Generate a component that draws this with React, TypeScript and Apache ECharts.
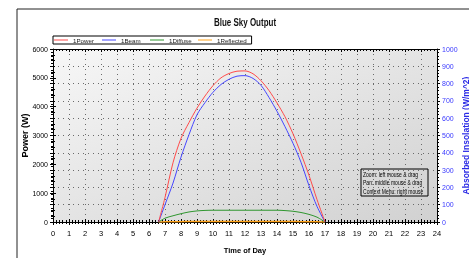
import React, { useEffect, useRef } from "react";
import * as echarts from "echarts";

const FONT = "'Liberation Sans', Arial, sans-serif";

const hours = [6.6, 7, 7.5, 8, 8.5, 9, 9.5, 10, 10.5, 11, 11.5, 12, 12.5, 13, 13.5, 14, 14.5, 15, 15.5, 16, 16.5, 17];
const power = [0, 850, 2055, 2900, 3450, 3950, 4370, 4730, 5000, 5150, 5230, 5240, 5140, 4900, 4560, 4130, 3650, 3060, 2370, 1620, 780, 0];
const beam = [0, 100, 225, 375, 505, 620, 690, 750, 795, 825, 843, 846, 830, 790, 720, 640, 551, 455, 345, 210, 90, 0];
const diffuse = [0, 22, 36, 48, 58, 64, 67, 68, 68, 68, 68, 68, 68, 68, 68, 68, 66, 62, 55, 44, 28, 0];
const reflected = [0, 1, 2, 2, 3, 3, 3, 3, 3, 3, 3, 3, 3, 3, 3, 3, 3, 3, 2, 2, 1, 0];

const xTicks = { min: 0, max: 24, interval: 1 };
const powerTicks = { min: 0, max: 6000, interval: 1000 };
const insolTicks = { min: 0, max: 1000, interval: 100 };

const chartTitle = "Blue Sky Output";
const seriesNames = ["1Power", "1Beam", "1Diffuse", "1Reflected"];
const seriesColors = ["#ff4a4a", "#4646ff", "#2f962f", "#ffa31a"];
const helpLines = ["Zoom: left mouse & drag", "Pan: middle mouse & drag", "Context Menu: right mouse"];

const pairs = (vals: number[]) => hours.map((h, i) => [h, vals[i]]);

export default function App() {
  const ref = useRef<HTMLDivElement>(null);
  useEffect(() => {
    if (!ref.current) return;
    const chart = echarts.init(ref.current, undefined, { renderer: "svg" });
    const black = { color: "#000", width: 1 };
    const tickAxis = (inside: boolean) => ({
      axisTick: { show: true, inside, length: 3, lineStyle: black },
      minorTick: { show: true, splitNumber: 5, length: 2, lineStyle: black },
    });
    const dotted = { show: true, lineStyle: { color: "#6a6a6a", width: 1, type: [1, 4] as any } };
    const nameStyle = { fontFamily: FONT, fontWeight: "bold" as const, fontSize: 9, color: "#000" };
    const labelStyle = { fontFamily: FONT, fontSize: 7, color: "#000", formatter: (v: number) => String(v) };

    chart.setOption({
      animation: false,
      legend: {
        data: seriesNames,
        left: 53,
        top: 36,
        orient: "horizontal",
        icon: "rect",
        itemWidth: 14,
        itemHeight: 1,
        itemGap: 5,
        padding: [0, 5, 0, 1],
        borderColor: "#000",
        borderWidth: 1,
        textStyle: { fontFamily: FONT, fontSize: 6.2, color: "#222", width: 24, lineHeight: 8 },
      },
      grid: {
        left: 53,
        top: 49,
        width: 384,
        height: 173,
        show: true,
        borderWidth: 0,
        containLabel: false,
        outerBoundsMode: "none",
        backgroundColor: new echarts.graphic.LinearGradient(0, 0, 1, 1, [
          { offset: 0, color: "#f7f7f7" },
          { offset: 1, color: "#d1d1d1" },
        ]),
      },
      xAxis: [
        {
          type: "value",
          ...xTicks,
          position: "bottom",
          axisLine: { show: true, onZero: false, lineStyle: black },
          ...tickAxis(false),
          axisLabel: { ...labelStyle, fontSize: 7.5, margin: 7 },
          splitLine: dotted,
          name: "Time of Day",
          nameLocation: "middle",
          nameGap: 24,
          nameMoveOverlap: false,
          nameTextStyle: { ...nameStyle, fontSize: 7.5 },
        },
        {
          type: "value",
          ...xTicks,
          position: "bottom",
          axisLine: { show: false },
          ...tickAxis(true),
          axisLabel: { show: false },
          splitLine: { show: false },
        },
        {
          type: "value",
          ...xTicks,
          position: "top",
          axisLine: { show: true, onZero: false, lineStyle: black },
          ...tickAxis(true),
          axisLabel: { show: false },
          splitLine: { show: false },
        },
      ],
      yAxis: [
        {
          type: "value",
          ...powerTicks,
          position: "left",
          axisLine: { show: true, onZero: false, lineStyle: black },
          ...tickAxis(false),
          axisLabel: { ...labelStyle, margin: 5 },
          splitLine: { show: false },
          name: "Power (W)",
          nameLocation: "middle",
          nameGap: 24,
          nameRotate: 90,
          nameMoveOverlap: false,
          nameTextStyle: nameStyle,
        },
        {
          type: "value",
          ...powerTicks,
          position: "left",
          axisLine: { show: false },
          ...tickAxis(true),
          axisLabel: { show: false },
          splitLine: { show: false },
        },
        {
          type: "value",
          ...insolTicks,
          position: "right",
          axisLine: { show: true, onZero: false, lineStyle: black },
          ...tickAxis(false),
          axisLabel: { ...labelStyle, color: "#3a3aff", margin: 5 },
          splitLine: dotted,
          name: "Absorbed Insolation (W/m^2)",
          nameLocation: "middle",
          nameGap: 24,
          nameRotate: 90,
          nameMoveOverlap: false,
          nameTextStyle: { ...nameStyle, fontSize: 8.5, color: "#2a2ae6" },
        },
        {
          type: "value",
          ...insolTicks,
          position: "right",
          axisLine: { show: false },
          ...tickAxis(true),
          axisLabel: { show: false },
          splitLine: { show: false },
        },
      ],
      series: [
        { name: seriesNames[0], data: pairs(power), yAxisIndex: 0 },
        { name: seriesNames[1], data: pairs(beam), yAxisIndex: 2 },
        { name: seriesNames[2], data: pairs(diffuse), yAxisIndex: 2 },
        { name: seriesNames[3], data: pairs(reflected), yAxisIndex: 2 },
      ].map((s, i) => ({
        ...s,
        type: "line",
        xAxisIndex: 0,
        smooth: 0.3,
        showSymbol: false,
        color: seriesColors[i],
        lineStyle: { color: seriesColors[i], width: i === 3 ? 1.5 : 1 },
        z: 10 - i,
      })),
      graphic: [
        {
          type: "rect",
          shape: { x: 17, y: 9, width: 470, height: 270 },
          style: { fill: "none", stroke: "#222", lineWidth: 1 },
          silent: true,
        },
        {
          type: "text",
          x: 245,
          y: 23,
          scaleX: 0.8,
          style: {
            text: chartTitle,
            fontFamily: FONT,
            fontWeight: "bold",
            fontSize: 10,
            fill: "#111",
            textAlign: "center",
            textVerticalAlign: "middle",
          },
        },
        {
          type: "group",
          x: 361,
          y: 169,
          children: [
            {
              type: "rect",
              shape: { x: 0, y: 0, width: 67, height: 27 },
              style: { fill: "none", stroke: "#000", lineWidth: 1 },
            },
            ...helpLines.map((t, i) => ({
              type: "text",
              x: 2,
              y: 5 + i * 8.4,
              scaleX: 0.72,
              style: {
                text: t,
                fontFamily: FONT,
                fontSize: 7,
                fill: "#000",
                textVerticalAlign: "middle",
              },
            })),
          ],
        },
      ],
    });
    return () => chart.dispose();
  }, []);
  return <div ref={ref} style={{ position: "fixed", left: 0, top: 0, width: 469, height: 258 }} />;
}
